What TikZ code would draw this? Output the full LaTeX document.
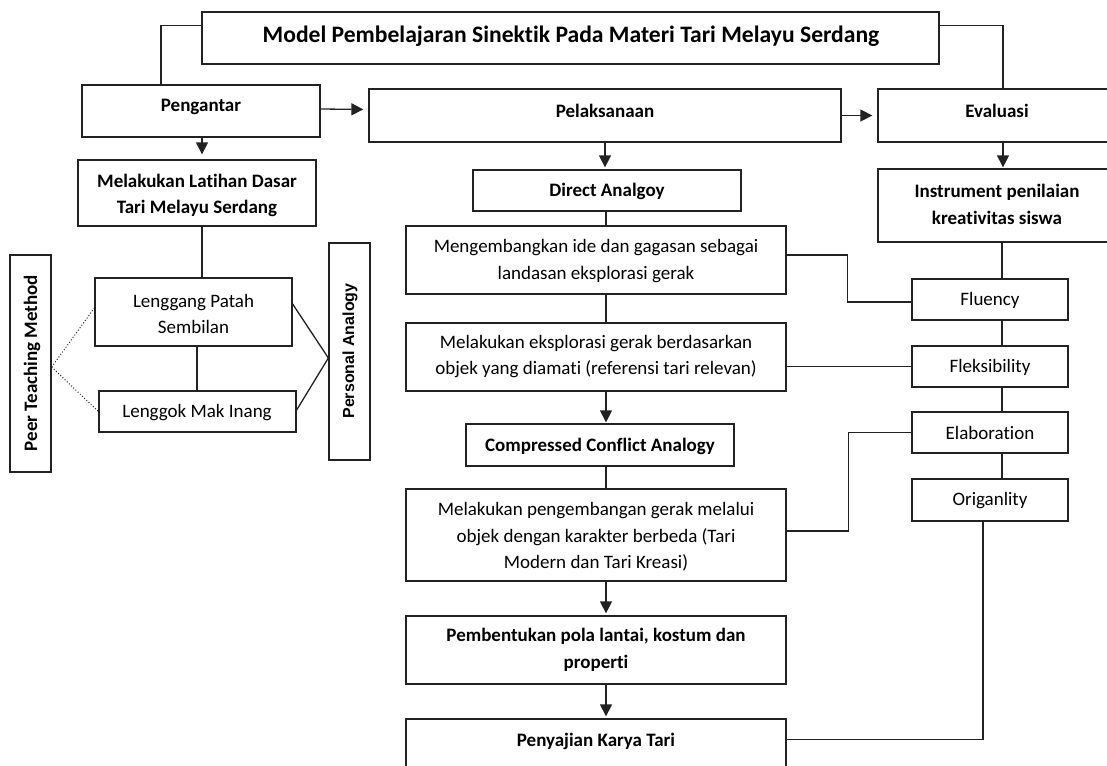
\documentclass[tikz,border=0pt]{standalone}
\usepackage{fontspec}
\setmainfont{Carlito}[Ligatures=NoCommon]
\newfontfamily\arialf{Liberation Sans}
\usetikzlibrary{fit,calc,arrows.meta}
\definecolor{lc}{RGB}{34,34,34}
\begin{document}
\begin{tikzpicture}[x=1pt,y=-1pt,
  box/.style={draw=lc, line width=1.3pt, inner sep=0pt, rectangle},
  ln/.style={draw=lc, line width=1.3pt},
  arr/.style={ln, -{Triangle[length=12pt,width=12pt]}},
  dotln/.style={draw=lc, line width=1pt, dotted},
  txt/.style={inner sep=0pt, align=center, font=\fontsize{19}{26.7}\selectfont, text=black},
  btxt/.style={txt, font=\fontsize{19}{26.7}\selectfont\bfseries},
]
\useasboundingbox[fill=white] (0,0) rectangle (1107,765);

% boxes
\node[box, fit={(202,12) (939,64)}] (title) {};
\node[box, fit={(82,85) (320,137)}] (peng) {};
\node[box, fit={(369,89) (841,142)}] (pel) {};
\node[box, fit={(878,89) (1115,142)}] (eval) {};
\node[box, fit={(78,160) (316,226)}] (lat) {};
\node[box, fit={(473,170) (741,211)}] (da) {};
\node[box, fit={(878,169) (1115,242)}] (inst) {};
\node[box, fit={(406,226) (786,294)}] (meng) {};
\node[box, fit={(406,323) (786,391)}] (eks) {};
\node[box, fit={(466,424) (734,466)}] (cca) {};
\node[box, fit={(406,489) (786,581)}] (kemb) {};
\node[box, fit={(406,616) (786,684)}] (pemb) {};
\node[box, fit={(406,719) (786,800)}] (peny) {};
\node[box, fit={(912,279) (1068,320)}] (flu) {};
\node[box, fit={(912,346) (1068,387)}] (flek) {};
\node[box, fit={(912,412) (1068,453)}] (elab) {};
\node[box, fit={(912,479) (1068,521)}] (orig) {};
\node[box, fit={(95,278) (292,346)}] (lps) {};
\node[box, fit={(99,391) (296,432)}] (lmi) {};
\node[box, fit={(10,255) (51,472)}] (ptm) {};
\node[box, fit={(329,243) (370,460)}] (pa) {};

% texts
\node[btxt, font=\fontsize{23.6}{28}\selectfont\bfseries] (titleT) at (571,36) {Model Pembelajaran Sinektik Pada Materi Tari Melayu Serdang};
\node[btxt] (pengT) at (201,107) {Pengantar};
\node[btxt] (pelT) at (605,111) {Pelaksanaan};
\node[btxt] (evalT) at (997,111) {Evaluasi};
\node[btxt] (latT) at (197,195.5) {Melakukan Latihan Dasar\\Tari Melayu Serdang};
\node[btxt] (daT) at (607,191) {Direct Analgoy};
\node[btxt] (instT) at (997,204.5) {Instrument penilaian\\kreativitas siswa};
\node[txt] (mengT) at (596,261) {Mengembangkan ide dan gagasan sebagai\\landasan eksplorasi gerak};
\node[txt] (eksT) at (596,356.5) {Melakukan eksplorasi gerak berdasarkan\\objek yang diamati (referensi tari relevan)};
\node[btxt] (ccaT) at (600,446) {Compressed Conflict Analogy};
\node[txt] (kembT) at (596,537) {Melakukan pengembangan gerak melalui\\objek dengan karakter berbeda (Tari\\Modern dan Tari Kreasi)};
\node[btxt] (pembT) at (596,650) {Pembentukan pola lantai, kostum dan\\properti};
\node[btxt] (penyT) at (596,741) {Penyajian Karya Tari};
\node[txt] (fluT) at (990,300) {Fluency};
\node[txt] (flekT) at (990,367) {Fleksibility};
\node[txt] (elabT) at (990,433) {Elaboration};
\node[txt] (origT) at (990,501) {Origanlity};
\node[txt] (lpsT) at (193.5,314) {Lenggang Patah\\Sembilan};
\node[txt] (lmiT) at (197,412.5) {Lenggok Mak Inang};
\node[btxt, rotate=90] (ptmT) at (32,363) {Peer Teaching Method};
\node[txt, rotate=90, font=\fontsize{16}{20}\selectfont\arialf\bfseries] (paT) at (350,351) {Personal Analogy};

% connectors top
\draw[ln] ($(title.north west)+(0,14)$) -| ($(peng.north)+(-40,0)$);
\draw[ln] ($(title.north east)+(0,14)$) -| ($(eval.north)+(6.5,0)$);
\draw[arr, shorten >=5pt] ($(peng.east)+(0,-2)$) -- ($(pel.west)+(0,-6)$);
\draw[arr, shorten >=5pt] (pel.east) -- (eval.west);
\draw[arr, shorten >=5pt] ($(peng.south)+(1,0)$) -- ($(lat.north)+(5,0)$);
\draw[arr, shorten >=2pt] (pel.south) -- ($(da.north)+(-2,0)$);
\draw[arr, shorten >=1pt] ($(eval.south)+(6.5,0)$) -- ($(inst.north)+(6.5,0)$);

% middle column
\draw[ln] ($(da.south)+(-1,0)$) -- ($(meng.north)+(10,0)$);
\draw[ln] ($(meng.south)+(10,0)$) -- ($(eks.north)+(10,0)$);
\draw[arr, shorten >=1pt] ($(eks.south)+(10,0)$) -- ($(cca.north)+(6,0)$);
\draw[ln] ($(cca.south)+(6,0)$) -- ($(kemb.north)+(10,0)$);
\draw[arr, shorten >=2pt] ($(kemb.south)+(10,0)$) -- ($(pemb.north)+(10,0)$);
\draw[arr, shorten >=2pt] ($(pemb.south)+(10,0)$) -- ($(peny.north)+(10,0)$);

% left part
\draw[ln] ($(lat.south)+(5,0)$) -- ($(lps.north)+(8.5,0)$);
\draw[ln] ($(lps.south)+(3.5,0)$) -- ($(lmi.north)+(-0.5,0)$);
\draw[dotln] ($(ptm.east)+(0,3.5)$) -- ($(lps.west)+(0,-4)$);
\draw[dotln] ($(ptm.east)+(0,3.5)$) -- (lmi.west);
\draw[ln] ($(lps.east)+(0,-8)$) -- ($(pa.west)+(0,6.5)$);
\draw[ln] ($(lmi.east)+(0,-1.5)$) -- ($(pa.west)+(0,6.5)$);

% right column
\draw[ln] ($(inst.south)+(5.5,0)$) -- ($(flu.north)+(12,0)$);
\draw[ln] ($(flu.south)+(12,0)$) -- ($(flek.north)+(12,0)$);
\draw[ln] ($(flek.south)+(12,0)$) -- ($(elab.north)+(12,0)$);
\draw[ln] ($(elab.south)+(12,0)$) -- ($(orig.north)+(12,0)$);

% cross connectors
\draw[ln] ($(meng.east)+(0,-5)$) -| ($(flu.west)+(-64,2.5)$) -- ($(flu.west)+(0,2.5)$);
\draw[ln] (flek.west) -- (flek.west -| eks.east);
\draw[ln] (elab.west) -| ($(kemb.east)+(62,-4)$) -- ($(kemb.east)+(0,-4)$);
\coordinate (pe) at ($(peny.north east)+(0,21)$);
\draw[ln] ($(orig.south)+(-7,0)$) |- (pe);
\end{tikzpicture}
\end{document}
